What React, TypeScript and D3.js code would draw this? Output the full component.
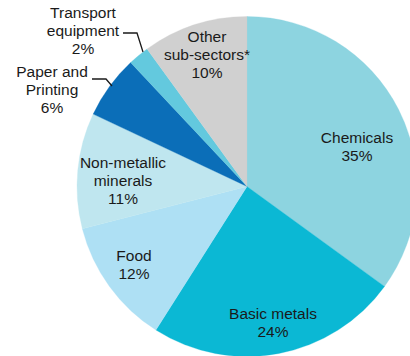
import React from "react";
import * as d3 from "d3";

const categories = ["Chemicals", "Basic metals", "Food", "Non-metallic minerals", "Paper and Printing", "Transport equipment", "Other sub-sectors*"];
const values = [35, 24, 12, 11, 6, 2, 10];
const colors = ["#8dd4e0", "#0bb8d4", "#aee0f4", "#bfe6ef", "#0b6eb8", "#63c9de", "#d0d0d0"];
const labelLines = [
  ["Chemicals", "35%"],
  ["Basic metals", "24%"],
  ["Food", "12%"],
  ["Non-metallic", "minerals", "11%"],
  ["Paper and", "Printing", "6%"],
  ["Transport", "equipment", "2%"],
  ["Other", "sub-sectors*", "10%"],
];

// layout (label anchor: x center, first baseline)
const labelAnchor: [number, number][] = [
  [357, 143],
  [273, 319],
  [134, 261],
  [123, 168],
  [52, 77],
  [83, 18],
  [207, 42],
];
const leaders: ([number, number][] | null)[] = [
  null, null, null, null,
  [[92, 79], [106, 79], [112, 86]],
  [[123, 33], [137, 33], [143, 52]],
  null,
];

export default function App() {
  const W = 410, H = 356;
  const cx = 247, cy = 186.5, r = 170;
  const pie = d3.pie<number>().sort(null).value((d) => d)(values);
  const arc = d3.arc<d3.PieArcDatum<number>>().innerRadius(0).outerRadius(r);
  const line = d3.line();
  return (
    <svg width={W} height={H} style={{ position: "absolute", left: 0, top: 0 }}
      fontFamily="'Liberation Sans', Arial, sans-serif">
      <rect width={W} height={H} fill="#fff" />
      <g transform={`translate(${cx},${cy})`}>
        {pie.map((p, i) => (
          <path key={categories[i]} d={arc(p) || ""} fill={colors[i]} stroke={colors[i]} strokeWidth={0.3} />
        ))}
      </g>
      {leaders.map((l, i) => l ? (
        <path key={"l" + i} d={line(l) || ""} fill="none" stroke="#1a1a1a" strokeWidth={1.3} />
      ) : null)}
      {labelLines.map((lines, i) => (
        <text key={"t" + i} x={labelAnchor[i][0]} y={labelAnchor[i][1]} textAnchor="middle" fontSize={15.5} fill="#1a1a1a">
          {lines.map((s, j) => (
            <tspan key={j} x={labelAnchor[i][0]} dy={j === 0 ? 0 : 18}>{s}</tspan>
          ))}
        </text>
      ))}
    </svg>
  );
}
